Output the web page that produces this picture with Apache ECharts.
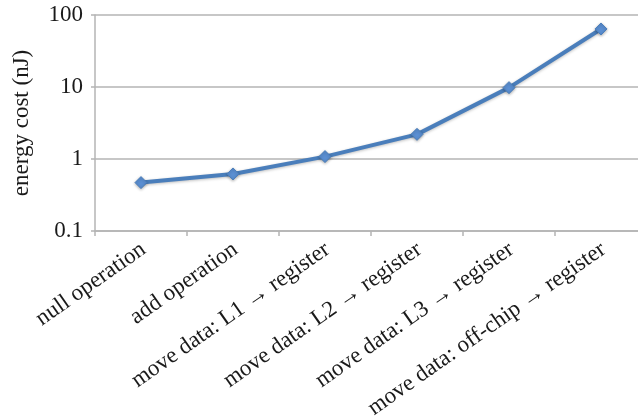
<!DOCTYPE html>
<html>
<head>
<meta charset="utf-8">
<script src="https://cdn.jsdelivr.net/npm/echarts@6/dist/echarts.min.js"></script>
<style>
  html, body { margin: 0; padding: 0; background: #ffffff; }
  #chart { width: 638px; height: 418px; }
</style>
</head>
<body>
<div id="chart"></div>
<script>
// Operations along the x axis
const categories = [
  'null operation',
  'add operation',
  'move data: L1 \u2192 register',
  'move data: L2 \u2192 register',
  'move data: L3 \u2192 register',
  'move data: off-chip \u2192 register'
];
// Energy per operation, nanojoules
const energyNJ = [0.47, 0.62, 1.08, 2.2, 9.8, 64];
// Decade labels on the log axis
const yTickLabels = ['0.1', '1', '10', '100'];

const serif = '"Liberation Serif", "Times New Roman", serif';
const gridGray = '#b4b4b4';
const lineBlue = '#4a7ebb';
const textColor = '#1a1a1a';

const chart = echarts.init(document.getElementById('chart'), null, { renderer: 'canvas' });
chart.setOption({
  backgroundColor: '#ffffff',
  animation: false,
  grid: {
    left: 95, top: 15, width: 552, height: 216,
    containLabel: false,
    outerBoundsMode: 'none'
  },
  xAxis: {
    type: 'category',
    data: categories,
    boundaryGap: true,
    axisLine: { show: true, lineStyle: { color: gridGray, width: 1.5 } },
    axisTick: { show: true, alignWithLabel: false, length: 5, lineStyle: { color: gridGray, width: 1.5 } },
    axisLabel: {
      interval: 0,
      rotate: 35,
      margin: 4,
      verticalAlign: 'top',
      padding: [0, 5, 0, 0],
      color: textColor,
      fontFamily: serif,
      fontSize: 23
    },
    splitLine: { show: false }
  },
  yAxis: {
    type: 'log',
    logBase: 10,
    min: 0.1,
    max: 100,
    name: 'energy cost (nJ)',
    nameLocation: 'middle',
    nameRotate: 90,
    nameGap: 62,
    nameTextStyle: { color: textColor, fontFamily: serif, fontSize: 23 },
    axisLine: { show: true, lineStyle: { color: gridGray, width: 1.5 } },
    axisTick: { show: true, inside: false, length: 4, lineStyle: { color: gridGray, width: 1.5 } },
    axisLabel: {
      margin: 12,
      color: textColor,
      fontFamily: serif,
      fontSize: 23,
      formatter: function (v) {
        const i = Math.round(Math.log10(v)) + 1;
        return yTickLabels[i] !== undefined ? yTickLabels[i] : String(v);
      }
    },
    splitLine: { show: true, lineStyle: { color: gridGray, width: 1.5 } }
  },
  series: [{
    type: 'line',
    data: energyNJ,
    symbol: 'diamond',
    symbolSize: 12,
    lineStyle: {
      color: lineBlue,
      width: 4,
      shadowColor: 'rgba(0,0,0,0.25)',
      shadowBlur: 3,
      shadowOffsetY: 1
    },
    itemStyle: {
      color: '#5b8fd2',
      borderColor: '#4a7ebb',
      borderWidth: 1,
      shadowColor: 'rgba(0,0,0,0.3)',
      shadowBlur: 3,
      shadowOffsetY: 1
    },
    z: 3
  }]
});
</script>
</body>
</html>
